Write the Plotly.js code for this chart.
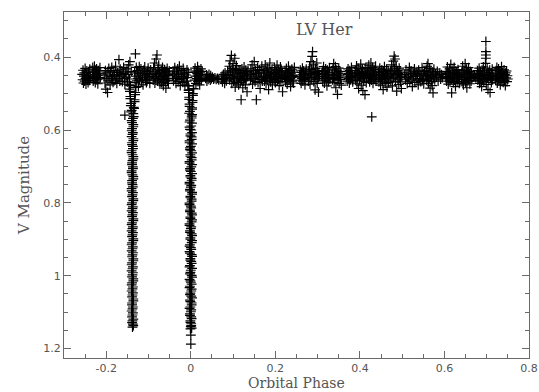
<!DOCTYPE html>
<html>
<head>
<meta charset="utf-8">
<script src="https://cdn.plot.ly/plotly-3.0.1.min.js"></script>
<style>html,body{margin:0;padding:0;background:#fff;}#chart{width:539px;height:392px;}</style>
</head>
<body>
<div id="chart"></div>
<script>
// Out-of-eclipse band: [phase, V magnitude]
const bandPts = [
[-0.257,0.447],[-0.256,0.462],[-0.255,0.436],[-0.254,0.471],[-0.253,0.452],[-0.252,0.443],[-0.251,0.466],[-0.250,0.431],[-0.249,0.458],[-0.248,0.474],[-0.247,0.449],[-0.246,0.438],[-0.245,0.463],[-0.244,0.455],[-0.243,0.470],[-0.242,0.441],[-0.241,0.452],[-0.240,0.464],[-0.239,0.433],[-0.238,0.457],
[-0.233,0.452],[-0.232,0.428],[-0.231,0.466],[-0.230,0.441],[-0.229,0.459],[-0.228,0.425],[-0.227,0.447],[-0.226,0.470],[-0.225,0.436],[-0.224,0.455],[-0.223,0.432],[-0.222,0.462],[-0.221,0.444],[-0.220,0.473],[-0.219,0.451],[-0.218,0.438],[-0.217,0.460],[-0.216,0.446],[-0.215,0.429],[-0.214,0.456],
[-0.205,0.449],[-0.203,0.471],[-0.202,0.437],[-0.201,0.488],[-0.200,0.458],[-0.198,0.443],[-0.197,0.497],[-0.196,0.465],[-0.194,0.431],[-0.193,0.452],[-0.191,0.476],[-0.190,0.440],[-0.188,0.460],[-0.187,0.428],[-0.185,0.454],[-0.184,0.469],[-0.182,0.437],[-0.181,0.448],[-0.179,0.463],[-0.178,0.425],[-0.176,0.451],[-0.175,0.472],[-0.173,0.442],[-0.172,0.459],[-0.170,0.407],[-0.169,0.447],[-0.168,0.466],[-0.167,0.433],
[-0.165,0.452],[-0.163,0.438],[-0.162,0.467],[-0.160,0.445],[-0.159,0.428],[-0.157,0.459],[-0.156,0.474],[-0.154,0.441],[-0.153,0.455],[-0.151,0.432],[-0.150,0.468],[-0.148,0.447],[-0.147,0.421],[-0.145,0.460],[-0.144,0.412],[-0.143,0.478],[-0.141,0.439],[-0.133,0.443],[-0.132,0.470],[-0.131,0.391],[-0.130,0.452],[-0.129,0.428],[-0.128,0.465],[-0.126,0.437],[-0.125,0.458],[-0.124,0.481],[-0.123,0.445],[-0.122,0.426],[-0.121,0.462],
[-0.119,0.449],[-0.118,0.432],[-0.117,0.466],[-0.115,0.441],[-0.114,0.457],[-0.113,0.476],[-0.111,0.436],[-0.110,0.451],[-0.109,0.427],[-0.107,0.463],[-0.106,0.445],[-0.105,0.470],[-0.103,0.439],[-0.102,0.455],[-0.101,0.430],[-0.099,0.460],[-0.098,0.448],[-0.097,0.472],[-0.095,0.435],[-0.094,0.453],
[-0.090,0.446],[-0.089,0.463],[-0.088,0.429],[-0.087,0.454],[-0.086,0.416],[-0.085,0.471],[-0.084,0.440],[-0.083,0.458],[-0.082,0.405],[-0.081,0.447],[-0.080,0.394],[-0.079,0.466],[-0.078,0.433],[-0.077,0.452],[-0.076,0.422],[-0.075,0.460],[-0.074,0.441],[-0.073,0.474],
[-0.071,0.455],[-0.070,0.437],[-0.069,0.469],[-0.068,0.446],[-0.067,0.428],[-0.066,0.461],[-0.065,0.478],[-0.064,0.443],[-0.063,0.452],[-0.062,0.434],[-0.061,0.466],[-0.060,0.449],[-0.059,0.485],[-0.058,0.440],[-0.057,0.458],[-0.056,0.431],[-0.055,0.463],[-0.054,0.447],[-0.053,0.472],[-0.052,0.451],[-0.051,0.438],
[-0.043,0.451],[-0.042,0.438],[-0.041,0.465],[-0.039,0.444],[-0.038,0.429],[-0.037,0.458],[-0.035,0.472],[-0.034,0.440],[-0.033,0.455],[-0.031,0.432],[-0.030,0.467],[-0.029,0.447],[-0.027,0.425],[-0.026,0.461],[-0.025,0.478],[-0.023,0.437],[-0.022,0.453],[-0.021,0.443],[-0.019,0.469],[-0.018,0.431],[-0.017,0.458],[-0.015,0.446],[-0.014,0.474],
[-0.011,0.449],[-0.010,0.466],[-0.009,0.435],[-0.008,0.456],[-0.007,0.478],[-0.006,0.442],[-0.005,0.490],[0.007,0.487],[0.008,0.441],[0.009,0.463],[0.010,0.430],[0.011,0.452],[0.012,0.472],[0.013,0.438],[0.014,0.459],[0.015,0.445],[0.016,0.426],[0.017,0.467],[0.018,0.450],[0.019,0.436],[0.020,0.461],[0.021,0.476],[0.022,0.443],[0.023,0.455],[0.024,0.432],[0.025,0.464],[0.026,0.448],[0.027,0.439],
[0.035,0.458],[0.037,0.449],[0.038,0.466],[0.040,0.452],[0.041,0.461],[0.043,0.447],[0.044,0.457],[0.046,0.463],[0.047,0.451],[0.049,0.459],[0.051,0.455],[0.054,0.460],[0.057,0.457],[0.060,0.461],[0.063,0.458],[0.066,0.462],
[0.072,0.461],[0.074,0.452],[0.075,0.468],[0.077,0.447],[0.078,0.459],[0.080,0.472],[0.081,0.443],[0.083,0.456],[0.084,0.465],[0.086,0.450],[0.087,0.438],
[0.090,0.447],[0.091,0.425],[0.092,0.462],[0.093,0.410],[0.094,0.438],[0.095,0.455],[0.096,0.395],[0.097,0.472],[0.098,0.431],[0.099,0.449],[0.100,0.418],[0.101,0.466],[0.102,0.441],[0.103,0.458],[0.104,0.403],[0.105,0.482],[0.106,0.434],[0.107,0.452],[0.108,0.423],[0.109,0.469],[0.110,0.444],[0.111,0.460],[0.112,0.437],[0.113,0.476],
[0.115,0.455],[0.116,0.438],[0.117,0.470],[0.118,0.446],[0.119,0.517],[0.120,0.461],[0.121,0.432],[0.122,0.453],[0.123,0.484],[0.124,0.442],[0.125,0.465],[0.126,0.427],[0.127,0.458],[0.128,0.449],[0.129,0.476],[0.130,0.436],[0.131,0.462],[0.132,0.444],[0.133,0.495],[0.134,0.452],[0.135,0.439],
[0.140,0.448],[0.141,0.463],[0.142,0.432],[0.144,0.455],[0.145,0.421],[0.146,0.474],[0.148,0.441],[0.149,0.459],[0.150,0.412],[0.152,0.467],[0.153,0.437],[0.154,0.452],[0.155,0.517],[0.156,0.445],[0.158,0.428],[0.159,0.470],[0.160,0.449],[0.162,0.434],[0.163,0.461],[0.164,0.486],[0.166,0.443],[0.167,0.456],[0.168,0.425],[0.169,0.466],
[0.172,0.452],[0.173,0.437],[0.174,0.466],[0.175,0.444],[0.176,0.421],[0.177,0.459],[0.178,0.473],[0.179,0.440],[0.180,0.455],[0.181,0.430],[0.182,0.463],[0.183,0.447],[0.184,0.489],[0.185,0.436],[0.186,0.458],[0.187,0.416],[0.188,0.451],[0.189,0.468],[0.190,0.442],[0.191,0.457],[0.192,0.433],[0.193,0.476],
[0.196,0.446],[0.197,0.461],[0.198,0.429],[0.199,0.453],[0.200,0.470],[0.201,0.438],[0.202,0.457],[0.203,0.443],[0.204,0.422],[0.205,0.465],[0.206,0.449],[0.207,0.434],[0.208,0.460],[0.209,0.478],[0.210,0.441],[0.211,0.455],[0.212,0.427],[0.213,0.467],[0.214,0.448],[0.215,0.437],[0.216,0.458],[0.217,0.495],[0.218,0.451],
[0.222,0.455],[0.223,0.440],[0.224,0.468],[0.225,0.446],[0.226,0.431],[0.227,0.461],[0.228,0.474],[0.229,0.443],[0.230,0.452],[0.231,0.425],[0.232,0.464],[0.233,0.449],[0.234,0.437],[0.235,0.459],[0.236,0.481],[0.237,0.444],[0.238,0.456],[0.239,0.433],[0.240,0.466],[0.241,0.450],[0.242,0.441],[0.243,0.471],[0.244,0.453],[0.245,0.428],
[0.257,0.449],[0.258,0.463],[0.259,0.436],[0.260,0.455],[0.261,0.472],[0.262,0.442],[0.263,0.458],[0.264,0.430],[0.265,0.466],[0.266,0.447],[0.267,0.438],[0.268,0.461],[0.269,0.452],[0.270,0.476],[0.271,0.444],[0.272,0.457],[0.273,0.433],
[0.277,0.451],[0.278,0.466],[0.279,0.438],[0.280,0.456],[0.281,0.427],[0.282,0.474],[0.283,0.445],[0.284,0.412],[0.285,0.460],[0.286,0.434],[0.287,0.398],[0.288,0.385],[0.289,0.449],[0.290,0.421],[0.291,0.467],[0.292,0.442],[0.293,0.455],[0.294,0.490],[0.295,0.431],[0.296,0.462],[0.297,0.447],[0.298,0.416],[0.299,0.472],[0.300,0.439],[0.301,0.458],[0.302,0.496],[0.303,0.444],[0.304,0.453],
[0.310,0.452],[0.311,0.437],[0.312,0.465],[0.313,0.445],[0.314,0.426],[0.315,0.458],[0.316,0.471],[0.317,0.440],[0.318,0.454],[0.319,0.432],[0.320,0.463],[0.321,0.448],[0.322,0.479],[0.323,0.436],[0.324,0.457],[0.325,0.443],[0.326,0.468],[0.327,0.451],[0.328,0.429],[0.329,0.460],
[0.334,0.447],[0.335,0.462],[0.336,0.433],[0.337,0.455],[0.338,0.418],[0.339,0.470],[0.340,0.441],[0.341,0.458],[0.342,0.426],[0.343,0.484],[0.344,0.449],[0.345,0.436],[0.346,0.463],[0.347,0.502],[0.348,0.444],[0.349,0.456],[0.350,0.430],[0.351,0.472],[0.352,0.451],[0.353,0.439],[0.354,0.461],[0.355,0.446],[0.356,0.477],
[0.368,0.455],[0.369,0.440],[0.370,0.466],[0.371,0.448],[0.372,0.432],[0.373,0.459],[0.374,0.445],[0.375,0.471],[0.376,0.437],[0.377,0.453],[0.378,0.462],[0.379,0.443],[0.380,0.428],[0.381,0.457],[0.382,0.449],[0.383,0.468],
[0.388,0.450],[0.389,0.436],[0.390,0.464],[0.391,0.445],[0.392,0.424],[0.393,0.473],[0.394,0.441],[0.395,0.457],[0.396,0.431],[0.397,0.486],[0.398,0.448],[0.399,0.462],[0.400,0.438],[0.401,0.454],[0.402,0.419],[0.403,0.477],[0.404,0.443],[0.405,0.459],[0.406,0.433],[0.407,0.492],[0.408,0.451],[0.409,0.466],[0.410,0.440],[0.411,0.456],[0.412,0.503],[0.413,0.447],[0.414,0.428],[0.415,0.470],[0.416,0.452],
[0.418,0.446],[0.419,0.431],[0.420,0.459],[0.421,0.422],[0.422,0.452],[0.423,0.468],[0.424,0.437],[0.425,0.455],[0.426,0.416],[0.427,0.463],[0.428,0.443],[0.429,0.449],[0.430,0.428],[0.431,0.472],[0.432,0.440],[0.433,0.457],[0.434,0.434],[0.435,0.461],[0.436,0.447],[0.437,0.425],[0.438,0.466],[0.439,0.450],
[0.443,0.455],[0.444,0.441],[0.445,0.468],[0.446,0.448],[0.447,0.430],[0.448,0.461],[0.449,0.477],[0.450,0.443],[0.451,0.456],[0.452,0.435],[0.453,0.466],[0.454,0.450],[0.455,0.489],[0.456,0.439],[0.457,0.459],[0.458,0.426],[0.459,0.453],[0.460,0.472],[0.461,0.445],[0.462,0.460],[0.463,0.433],[0.464,0.482],[0.465,0.449],[0.466,0.457],[0.467,0.438],[0.468,0.470],
[0.471,0.452],[0.472,0.437],[0.473,0.466],[0.474,0.444],[0.475,0.421],[0.476,0.459],[0.477,0.479],[0.478,0.440],[0.479,0.411],[0.480,0.455],[0.481,0.397],[0.482,0.432],[0.483,0.405],[0.484,0.468],[0.485,0.447],[0.486,0.426],[0.487,0.493],[0.488,0.451],[0.489,0.437],[0.490,0.462],[0.491,0.445],[0.492,0.475],[0.493,0.430],[0.494,0.457],[0.495,0.441],[0.496,0.468],[0.497,0.449],[0.498,0.486],[0.499,0.454],
[0.506,0.448],[0.508,0.462],[0.509,0.435],[0.511,0.455],[0.512,0.472],[0.514,0.443],[0.515,0.457],[0.517,0.428],[0.518,0.466],[0.520,0.449],[0.521,0.438],[0.523,0.460],[0.524,0.481],[0.526,0.445],[0.527,0.453],[0.529,0.432],[0.530,0.469],[0.532,0.451],[0.533,0.440],[0.535,0.463],[0.536,0.447],[0.538,0.476],[0.539,0.436],[0.541,0.458],[0.542,0.444],[0.544,0.467],[0.545,0.452],[0.547,0.429],[0.548,0.461],[0.550,0.446],[0.551,0.473],[0.553,0.439],
[0.556,0.450],[0.557,0.436],[0.558,0.464],[0.559,0.425],[0.560,0.455],[0.561,0.418],[0.562,0.472],[0.563,0.443],[0.564,0.459],[0.565,0.431],[0.566,0.485],[0.567,0.448],[0.568,0.438],[0.569,0.467],[0.570,0.453],[0.571,0.478],[0.572,0.441],[0.573,0.498],[0.574,0.457],[0.575,0.433],[0.577,0.462],[0.579,0.446],[0.581,0.455],[0.583,0.439],[0.585,0.466],[0.587,0.451],[0.589,0.443],[0.591,0.460],[0.593,0.448],[0.595,0.456],
[0.603,0.453],[0.604,0.439],[0.605,0.466],[0.606,0.445],[0.607,0.427],[0.608,0.458],[0.609,0.474],[0.610,0.441],[0.611,0.455],[0.612,0.432],[0.613,0.468],[0.614,0.449],[0.615,0.420],[0.616,0.462],[0.617,0.498],[0.618,0.444],[0.619,0.457],[0.620,0.436],[0.621,0.470],[0.622,0.451],[0.623,0.428],[0.624,0.463],[0.625,0.446],[0.626,0.481],[0.627,0.438],[0.628,0.456],[0.629,0.443],[0.630,0.467],[0.631,0.450],[0.632,0.434],[0.633,0.460],[0.634,0.447],[0.635,0.472],[0.636,0.452],
[0.640,0.456],[0.641,0.441],[0.642,0.468],[0.643,0.425],[0.644,0.452],[0.645,0.476],[0.646,0.437],[0.647,0.461],[0.648,0.446],[0.649,0.418],[0.650,0.470],[0.651,0.449],[0.652,0.433],[0.653,0.484],[0.654,0.455],[0.655,0.442],[0.656,0.464],[0.657,0.429],[0.658,0.458],[0.659,0.447],[0.660,0.473],[0.661,0.439],[0.662,0.453],[0.663,0.466],[0.664,0.444],[0.665,0.458],[0.668,0.455],[0.671,0.452],[0.674,0.456],
[0.677,0.451],[0.678,0.437],[0.679,0.463],[0.680,0.445],[0.681,0.458],[0.682,0.430],[0.683,0.472],[0.684,0.448],[0.685,0.440],[0.686,0.466],[0.687,0.453],[0.688,0.481],[0.689,0.436],[0.690,0.459],[0.691,0.444],[0.692,0.427],[0.693,0.468],[0.694,0.450],[0.695,0.438],[0.696,0.461],[0.697,0.417],[0.698,0.357],[0.698,0.385],[0.698,0.394],[0.698,0.403],[0.699,0.475],[0.700,0.447],[0.701,0.432],[0.702,0.456],[0.703,0.489],[0.704,0.442],[0.705,0.463],[0.706,0.451],[0.707,0.436],[0.708,0.497],[0.709,0.458],[0.710,0.445],[0.711,0.470],[0.712,0.449],[0.713,0.433],[0.714,0.462],[0.715,0.453],
[0.720,0.449],[0.721,0.463],[0.722,0.437],[0.723,0.455],[0.724,0.428],[0.725,0.471],[0.726,0.444],[0.727,0.459],[0.728,0.432],[0.729,0.466],[0.730,0.450],[0.731,0.439],[0.732,0.476],[0.733,0.446],[0.734,0.458],[0.735,0.426],[0.736,0.462],[0.737,0.452],[0.738,0.441],[0.739,0.469],[0.740,0.455],[0.741,0.435],[0.742,0.464],[0.743,0.448],[0.744,0.478],[0.745,0.443],[0.746,0.457],[0.747,0.438],[0.748,0.467],[0.749,0.451],[0.750,0.460],
[0.428,0.564]
];
// Eclipse near phase -0.138
const eclipseAPts = [
[-0.146,0.476],[-0.130,0.483],[-0.144,0.494],[-0.132,0.503],[-0.143,0.514],[-0.133,0.522],[-0.142,0.533],[-0.134,0.541],[-0.141,0.550],[-0.156,0.559],[-0.135,0.563],[-0.140,0.574],[-0.136,0.585],[-0.139,0.596],[-0.137,0.607],[-0.140,0.618],[-0.136,0.629],[-0.139,0.640],[-0.137,0.651],[-0.140,0.662],[-0.136,0.673],[-0.138,0.684],[-0.139,0.695],[-0.137,0.706],[-0.140,0.717],[-0.136,0.728],[-0.139,0.739],[-0.138,0.750],[-0.140,0.761],[-0.137,0.772],[-0.139,0.783],[-0.136,0.794],[-0.140,0.805],[-0.138,0.816],[-0.137,0.827],[-0.139,0.838],[-0.136,0.849],[-0.140,0.860],[-0.138,0.871],[-0.137,0.882],[-0.139,0.893],[-0.136,0.904],[-0.140,0.915],[-0.138,0.926],[-0.137,0.937],[-0.139,0.948],[-0.136,0.959],[-0.140,0.970],[-0.138,0.981],[-0.137,0.992],[-0.139,1.003],[-0.136,1.014],[-0.140,1.025],[-0.138,1.036],[-0.137,1.047],[-0.139,1.058],[-0.136,1.069],[-0.139,1.080],[-0.138,1.091],[-0.137,1.102],[-0.139,1.113],[-0.138,1.124],[-0.137,1.133],[-0.138,1.141],
[-0.145,0.488],[-0.131,0.497],[-0.143,0.508],[-0.133,0.517],[-0.141,0.527],[-0.135,0.538],[-0.140,0.546],[-0.136,0.555],
[-0.137,0.568],[-0.139,0.580],[-0.136,0.591],[-0.140,0.602],[-0.138,0.612],[-0.136,0.624],[-0.139,0.635],[-0.137,0.645],[-0.140,0.657],[-0.138,0.668],[-0.136,0.679],[-0.139,0.690],[-0.137,0.701],[-0.140,0.712],[-0.138,0.723],[-0.136,0.734],[-0.139,0.745],[-0.137,0.756],[-0.140,0.767],[-0.138,0.778],[-0.136,0.789],[-0.139,0.800],[-0.137,0.811],[-0.140,0.822],[-0.138,0.833],[-0.136,0.844],[-0.139,0.855],[-0.137,0.866],[-0.140,0.877],[-0.138,0.888],[-0.136,0.899],[-0.139,0.910],[-0.137,0.921],[-0.140,0.932],[-0.138,0.943],[-0.136,0.954],[-0.139,0.965],[-0.137,0.976],[-0.140,0.987],[-0.138,0.998],[-0.136,1.009],[-0.139,1.020],[-0.137,1.031],[-0.140,1.042],[-0.138,1.053],[-0.136,1.064],[-0.139,1.075],[-0.137,1.086],[-0.140,1.097],[-0.138,1.108],[-0.136,1.119],[-0.139,1.129],[-0.136,1.137]
];
// Eclipse near phase 0
const eclipseBPts = [
[-0.006,0.479],[0.006,0.486],[-0.005,0.497],[0.005,0.505],[-0.004,0.516],[0.004,0.524],[-0.003,0.535],[0.003,0.543],[-0.004,0.554],[0.002,0.562],[-0.002,0.573],[0.003,0.581],[-0.003,0.592],[0.001,0.600],[-0.001,0.611],[0.002,0.619],[-0.003,0.630],[0.003,0.638],[-0.002,0.649],[0.001,0.657],[-0.001,0.668],[0.002,0.676],[-0.003,0.687],[0.003,0.695],[-0.002,0.706],[0.000,0.714],[-0.001,0.725],[0.002,0.733],[-0.003,0.744],[0.001,0.752],[-0.002,0.763],[0.003,0.771],[-0.001,0.782],[0.002,0.790],[-0.003,0.801],[0.000,0.809],[-0.002,0.820],[0.002,0.828],[-0.001,0.839],[0.003,0.847],[-0.003,0.858],[0.001,0.866],[-0.002,0.877],[0.002,0.885],[-0.001,0.896],[0.003,0.904],[-0.002,0.915],[0.000,0.923],[-0.003,0.934],[0.002,0.942],[-0.001,0.953],[0.001,0.961],[-0.002,0.972],[0.003,0.980],[-0.001,0.991],[0.002,0.999],[-0.003,1.010],[0.000,1.018],[-0.002,1.029],[0.002,1.037],[-0.001,1.048],[0.001,1.056],[-0.002,1.067],[0.002,1.075],[-0.001,1.086],[0.001,1.094],[-0.002,1.105],[0.001,1.113],[-0.001,1.124],[0.001,1.132],[0.000,1.140],[-0.001,1.146],[0.000,1.163],[0.000,1.188],
[-0.005,0.491],[0.005,0.500],[-0.004,0.510],[0.004,0.519],[-0.003,0.529],[0.003,0.539],[-0.002,0.549],[0.003,0.558],
[0.002,0.567],[-0.003,0.578],[0.001,0.589],[-0.002,0.598],[0.003,0.607],[-0.001,0.616],[0.002,0.626],[-0.003,0.635],[0.000,0.645],[-0.002,0.654],[0.003,0.663],[-0.001,0.672],[0.002,0.682],[-0.003,0.691],[0.001,0.701],[-0.002,0.710],[0.003,0.720],[-0.001,0.729],[0.002,0.738],[-0.003,0.748],[0.000,0.757],[-0.002,0.767],[0.003,0.776],[-0.001,0.786],[0.002,0.795],[-0.003,0.805],[0.001,0.814],[-0.002,0.824],[0.003,0.833],[-0.001,0.843],[0.002,0.852],[-0.003,0.862],[0.000,0.871],[-0.002,0.881],[0.003,0.890],[-0.001,0.900],[0.002,0.909],[-0.003,0.919],[0.001,0.928],[-0.002,0.938],[0.003,0.947],[-0.001,0.957],[0.002,0.966],[-0.003,0.976],[0.000,0.985],[-0.002,0.995],[0.003,1.004],[-0.001,1.014],[0.002,1.023],[-0.003,1.033],[0.001,1.042],[-0.002,1.052],[0.003,1.061],[-0.001,1.071],[0.002,1.080],[-0.003,1.090],[0.000,1.099],[-0.002,1.109],[0.002,1.118],[-0.001,1.128],[0.001,1.137],[0.002,1.144]
];
const xTickVals = [-0.2, 0, 0.2, 0.4, 0.6, 0.8];
const xTickText = ['-0.2', '0', '0.2', '0.4', '0.6', '0.8'];
const yTickVals = [0.4, 0.6, 0.8, 1, 1.2];
const yTickText = ['0.4', '0.6', '0.8', '1', '1.2'];

const frameCol = '#6a6a6a';
const textCol = '#555555';
const markerStyle = {symbol: 'cross-thin-open', size: 7, color: '#000', line: {color: '#000', width: 1.2}};
function tr(pts) {
  return {x: pts.map(p => p[0]), y: pts.map(p => p[1]), type: 'scatter', mode: 'markers', marker: markerStyle, hoverinfo: 'skip'};
}
const data = [tr(bandPts), tr(eclipseAPts), tr(eclipseBPts)];
const axisBase = {
  showgrid: false, zeroline: false, showline: true, mirror: 'allticks',
  linecolor: frameCol, linewidth: 1, ticks: 'inside', ticklen: 7, tickcolor: frameCol, tickwidth: 1,
  tickfont: {family: 'DejaVu Sans, sans-serif', size: 11, color: textCol}
};
const layout = {
  width: 539, height: 392,
  margin: {l: 64, r: 10, t: 12, b: 34},
  paper_bgcolor: '#fff', plot_bgcolor: '#fff',
  showlegend: false,
  xaxis: Object.assign({}, axisBase, {
    range: [-0.3, 0.8], tickmode: 'array', tickvals: xTickVals, ticktext: xTickText,
    minor: {tickmode: 'linear', tick0: 0, dtick: 0.05, ticks: 'inside', ticklen: 4, tickcolor: frameCol}
  }),
  yaxis: Object.assign({}, axisBase, {
    range: [1.226, 0.276], tickmode: 'array', tickvals: yTickVals, ticktext: yTickText,
    minor: {tickmode: 'linear', tick0: 0, dtick: 0.05, ticks: 'inside', ticklen: 4, tickcolor: frameCol},
    title: {text: 'V Magnitude', standoff: 10, font: {family: 'DejaVu Serif, serif', size: 15, color: textCol}}
  }),
  annotations: [{
    text: 'LV Her', xref: 'paper', yref: 'paper', x: 0.561, y: 0.948,
    xanchor: 'center', yanchor: 'middle', showarrow: false,
    font: {family: 'DejaVu Serif, serif', size: 16, color: textCol}
  }, {
    text: 'Orbital Phase', xref: 'paper', yref: 'paper', x: 0.5, y: -0.0715,
    xanchor: 'center', yanchor: 'middle', showarrow: false,
    font: {family: 'DejaVu Serif, serif', size: 14, color: textCol}
  }]
};
Plotly.newPlot('chart', data, layout, {displayModeBar: false, staticPlot: true});
</script>
</body>
</html>
